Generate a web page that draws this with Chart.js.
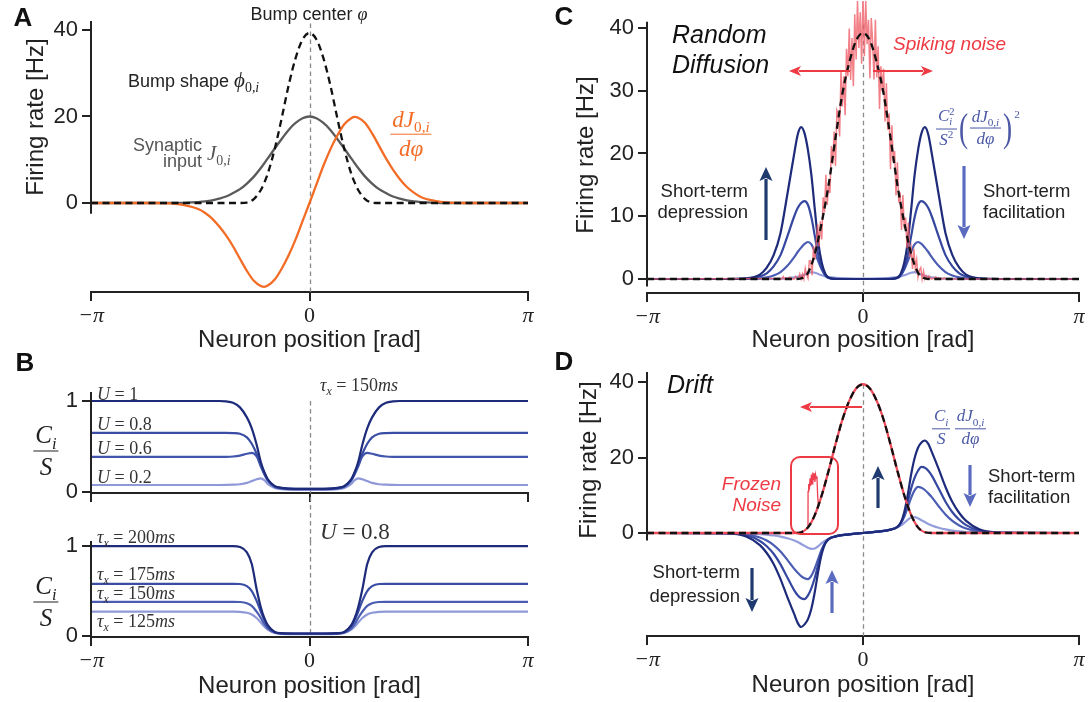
<!DOCTYPE html>
<html>
<head>
<meta charset="utf-8">
<script src="https://cdn.jsdelivr.net/npm/chart.js@4.4.1/dist/chart.umd.min.js"></script>
<style>
  body { margin: 0; background: #fff; }
  #fig { position: relative; width: 1088px; height: 702px; overflow: hidden;
         font-family: 'Liberation Sans', Arial, sans-serif; color: #222; }
  canvas { position: absolute; }
  svg { position: absolute; left: 0; top: 0; pointer-events: none; }
  .t { position: absolute; white-space: nowrap; line-height: 1.15; }
  .c { transform: translate(-50%, -50%); }
  .l { transform: translate(0, -50%); }
  .r { transform: translate(-100%, -50%); }
  .lt { font-weight: bold; font-size: 26px; color: #111; }
  .yl { transform: translate(-50%, -50%) rotate(-90deg); font-size: 24px; }
  .m { font-family: 'Liberation Serif', serif; font-style: italic; }
  .up { font-style: normal; }
  .it { font-style: italic; }
  sub, sup { font-size: 66%; line-height: 0; }
  .frac { display: inline-flex; flex-direction: column; align-items: center; vertical-align: middle; line-height: 1.1; }
  .frac .num { border-bottom: 1.2px solid currentColor; padding: 0 2px 2px; }
  .frac .den { padding-top: 1px; }
  .ss { display: inline-flex; flex-direction: column; font-size: 62%; line-height: 0.95; vertical-align: middle; }
  .par { font-family: 'Liberation Serif', serif; font-style: normal; font-size: 2.3em; font-weight: 100; vertical-align: middle; display: inline-block; transform: scaleX(0.7); }
</style>
</head>
<body>
<div id="fig">
  <canvas id="chartA"></canvas>
  <canvas id="chartB1"></canvas>
  <canvas id="chartB2"></canvas>
  <canvas id="chartC"></canvas>
  <canvas id="chartD"></canvas>
  <svg id="marks" width="1088" height="702"></svg>

  <div class="t c lt" style="left:23px;top:18px">A</div>
  <div class="t c lt" style="left:25px;top:363px">B</div>
  <div class="t c lt" style="left:564px;top:17px">C</div>
  <div class="t c lt" style="left:564px;top:362px">D</div>

  <div class="t yl" style="left:35px;top:117px">Firing rate [Hz]</div>
  <div class="t yl" style="left:585px;top:155px">Firing rate [Hz]</div>
  <div class="t yl" style="left:588px;top:460px">Firing rate [Hz]</div>

  <!-- panel A -->
  <div class="t c" style="left:309px;top:14px;font-size:18px">Bump center <span class="m">φ</span></div>
  <div class="t l" style="left:128px;top:80px;font-size:18px">Bump shape <span class="m" style="font-size:21px">ϕ<sub><span class="up">0,</span>i</sub></span></div>
  <div class="t r" style="left:202px;top:145px;font-size:18px;color:#555">Synaptic</div>
  <div class="t r" style="left:202px;top:161px;font-size:18px;color:#555">input</div>
  <div class="t l m" style="left:207px;top:153px;font-size:21px;color:#555">J<sub><span class="up">0,</span>i</sub></div>
  <div class="t c m" style="left:411px;top:134px;font-size:23px;color:#f36c25"><span class="frac"><span class="num">dJ<sub><span class="up">0,</span>i</sub></span><span class="den">dφ</span></span></div>

  <!-- panel B -->
  <div class="t c m" style="left:46px;top:450px;font-size:25px"><span class="frac"><span class="num">C<sub>i</sub></span><span class="den">S</span></span></div>
  <div class="t c m" style="left:46px;top:601px;font-size:25px"><span class="frac"><span class="num">C<sub>i</sub></span><span class="den">S</span></span></div>
  <div class="t l m" style="left:97px;top:394px;font-size:18px;color:#333">U <span class="up">= 1</span></div>
  <div class="t l m" style="left:97px;top:424px;font-size:18px;color:#333">U <span class="up">= 0.8</span></div>
  <div class="t l m" style="left:97px;top:448px;font-size:18px;color:#333">U <span class="up">= 0.6</span></div>
  <div class="t l m" style="left:97px;top:477px;font-size:18px;color:#333">U <span class="up">= 0.2</span></div>
  <div class="t l m" style="left:320px;top:385px;font-size:18px;color:#333">τ<sub>x</sub> <span class="up">= 150</span>ms</div>
  <div class="t l m" style="left:97px;top:537px;font-size:18px;color:#333">τ<sub>x</sub> <span class="up">= 200</span>ms</div>
  <div class="t l m" style="left:97px;top:574px;font-size:18px;color:#333">τ<sub>x</sub> <span class="up">= 175</span>ms</div>
  <div class="t l m" style="left:97px;top:593px;font-size:18px;color:#333">τ<sub>x</sub> <span class="up">= 150</span>ms</div>
  <div class="t l m" style="left:97px;top:621px;font-size:18px;color:#333">τ<sub>x</sub> <span class="up">= 125</span>ms</div>
  <div class="t l m" style="left:320px;top:532px;font-size:23px;color:#333">U <span class="up">= 0.8</span></div>

  <!-- panel C -->
  <div class="t l it" style="left:672px;top:34px;font-size:25px;color:#111">Random</div>
  <div class="t l it" style="left:672px;top:64px;font-size:25px;color:#111">Diffusion</div>
  <div class="t l it" style="left:893px;top:44px;font-size:19px;color:#ee3a43">Spiking noise</div>
  <div class="t r" style="left:748px;top:191px;font-size:18.5px">Short-term</div>
  <div class="t r" style="left:748px;top:212px;font-size:18.5px">depression</div>
  <div class="t l" style="left:983px;top:191px;font-size:18.5px">Short-term</div>
  <div class="t l" style="left:983px;top:212px;font-size:18.5px">facilitation</div>
  <div class="t l m" style="left:936px;top:128px;font-size:17px;color:#4a58a6">
    <span class="frac"><span class="num">C<span class="ss"><span class="up">2</span><span>i</span></span></span><span class="den">S<sup class="up">2</sup></span></span><span class="par">(</span><span class="frac"><span class="num">dJ<sub><span class="up">0,</span>i</sub></span><span class="den">dφ</span></span><span class="par">)</span><sup class="up" style="vertical-align:14px">2</sup>
  </div>

  <!-- panel D -->
  <div class="t l it" style="left:667px;top:384px;font-size:25px;color:#111">Drift</div>
  <div class="t r it" style="left:781px;top:484px;font-size:19px;color:#ee3a43">Frozen</div>
  <div class="t r it" style="left:781px;top:505px;font-size:19px;color:#ee3a43">Noise</div>
  <div class="t l" style="left:988px;top:476px;font-size:18.5px">Short-term</div>
  <div class="t l" style="left:988px;top:497px;font-size:18.5px">facilitation</div>
  <div class="t r" style="left:740px;top:572px;font-size:18.5px">Short-term</div>
  <div class="t r" style="left:740px;top:596px;font-size:18.5px">depression</div>
  <div class="t l m" style="left:932px;top:428px;font-size:17px;color:#4a58a6">
    <span class="frac"><span class="num">C<sub>i</sub></span><span class="den">S</span></span>
    <span class="frac"><span class="num">dJ<sub><span class="up">0,</span>i</sub></span><span class="den">dφ</span></span>
  </div>
</div>

<script>
// tick positions shared by all panels
const piTicks = [-Math.PI, 0, Math.PI];
const piLabels = ['−π', '0', 'π'];
const yTicksA = [0, 20, 40];
const yTicksB = [0, 1];
const yTicksC = [0, 10, 20, 30, 40];
const yTicksD = [0, 20, 40];

// panel A: bump, synaptic input and its derivative
const xA = [-Math.PI, -2.2, -2.0, -1.8, -1.6, -1.5, -1.4, -1.3, -1.2, -1.1, -1.0, -0.9, -0.8, -0.7, -0.65, -0.6, -0.5, -0.4, -0.3, -0.2, -0.1,
  0, 0.1, 0.2, 0.3, 0.4, 0.5, 0.6, 0.65, 0.7, 0.8, 0.9, 1.0, 1.1, 1.2, 1.3, 1.4, 1.5, 1.6, 1.8, 2.0, 2.2, Math.PI];
const bumpA = [0, 0, 0, 0, 0, 0, 0, 0, 0, 0, 0, 0.1, 0.9, 3.0, 4.7, 6.8, 12.5, 19.6, 27.2, 33.5, 37.8,
  39.3, 37.8, 33.5, 27.2, 19.6, 12.5, 6.8, 4.7, 3.0, 0.9, 0.1, 0, 0, 0, 0, 0, 0, 0, 0, 0, 0, 0];
const inputA = [0, 0, 0, 0.05, 0.2, 0.35, 0.6, 1.0, 1.5, 2.3, 3.2, 4.5, 6.1, 8.1, 9.2, 10.3, 12.6, 14.8, 16.9, 18.5, 19.6,
  20, 19.6, 18.5, 16.9, 14.8, 12.6, 10.3, 9.2, 8.1, 6.1, 4.5, 3.2, 2.3, 1.5, 1.0, 0.6, 0.35, 0.2, 0.05, 0, 0, 0];
const slopeA = [0, 0, -0.1, -0.5, -1.4, -2.3, -3.6, -5.4, -7.5, -10.0, -12.9, -15.7, -18.0, -19.2, -19.4, -19.1, -17.7, -15.2, -12.1, -8.4, -4.2,
  0, 4.3, 8.6, 12.4, 15.6, 18.2, 19.6, 19.9, 19.7, 18.5, 16.1, 13.2, 10.3, 7.7, 5.5, 3.7, 2.4, 1.4, 0.5, 0.1, 0, 0];

// panel B: C_i / S for several U (top) and tau_x (bottom)
const xB = [-Math.PI, -1.3, -1.2, -1.1, -1.0, -0.9, -0.83, -0.76, -0.7, -0.65, -0.6, -0.5, -0.4, -0.2,
  0, 0.2, 0.4, 0.5, 0.6, 0.65, 0.7, 0.76, 0.83, 0.9, 1.0, 1.1, 1.2, 1.3, Math.PI];
const uOne = [1, 1, 0.995, 0.98, 0.93, 0.82, 0.7, 0.52, 0.33, 0.22, 0.14, 0.065, 0.045, 0.035,
  0.035, 0.035, 0.045, 0.065, 0.14, 0.22, 0.33, 0.52, 0.7, 0.82, 0.93, 0.98, 0.995, 1, 1];
const uPoint8 = [0.65, 0.65, 0.65, 0.648, 0.64, 0.6, 0.53, 0.42, 0.3, 0.21, 0.135, 0.062, 0.043, 0.034,
  0.034, 0.034, 0.043, 0.062, 0.135, 0.21, 0.3, 0.42, 0.53, 0.6, 0.64, 0.648, 0.65, 0.65, 0.65];
const uPoint6 = [0.385, 0.385, 0.386, 0.39, 0.4, 0.42, 0.43, 0.39, 0.28, 0.195, 0.125, 0.058, 0.04, 0.032,
  0.032, 0.032, 0.04, 0.058, 0.125, 0.195, 0.28, 0.39, 0.43, 0.42, 0.4, 0.39, 0.386, 0.385, 0.385];
const uPoint2 = [0.077, 0.077, 0.078, 0.08, 0.085, 0.1, 0.12, 0.14, 0.15, 0.13, 0.09, 0.045, 0.03, 0.024,
  0.024, 0.024, 0.03, 0.045, 0.09, 0.13, 0.15, 0.14, 0.12, 0.1, 0.085, 0.08, 0.078, 0.077, 0.077];
const tau200 = [1, 1, 1, 1, 0.99, 0.93, 0.8, 0.52, 0.32, 0.2, 0.12, 0.045, 0.032, 0.028,
  0.028, 0.028, 0.032, 0.045, 0.12, 0.2, 0.32, 0.52, 0.8, 0.93, 0.99, 1, 1, 1, 1];
const tau175 = [0.58, 0.58, 0.58, 0.58, 0.578, 0.555, 0.5, 0.39, 0.27, 0.18, 0.11, 0.043, 0.03, 0.026,
  0.026, 0.026, 0.03, 0.043, 0.11, 0.18, 0.27, 0.39, 0.5, 0.555, 0.578, 0.58, 0.58, 0.58, 0.58];
const tau150 = [0.38, 0.38, 0.38, 0.38, 0.378, 0.365, 0.335, 0.27, 0.2, 0.135, 0.085, 0.038, 0.027, 0.024,
  0.024, 0.024, 0.027, 0.038, 0.085, 0.135, 0.2, 0.27, 0.335, 0.365, 0.378, 0.38, 0.38, 0.38, 0.38];
const tau125 = [0.27, 0.27, 0.27, 0.27, 0.268, 0.258, 0.24, 0.2, 0.15, 0.105, 0.07, 0.033, 0.024, 0.022,
  0.022, 0.022, 0.024, 0.033, 0.07, 0.105, 0.15, 0.2, 0.24, 0.258, 0.268, 0.27, 0.27, 0.27, 0.27];

// panels C and D: bump shapes
const xBump = [-Math.PI, -1.0, -0.9, -0.8, -0.7, -0.6, -0.5, -0.4, -0.3, -0.2, -0.1,
  0, 0.1, 0.2, 0.3, 0.4, 0.5, 0.6, 0.7, 0.8, 0.9, 1.0, Math.PI];
const bumpC = [0, 0, 0.1, 1.0, 4.0, 9.0, 15.0, 22.5, 29.5, 34.5, 38.0, 39.2, 38.0, 34.5, 29.5, 22.5, 15.0, 9.0, 4.0, 1.0, 0.1, 0, 0];
const bumpD = [0, 0, 0.2, 1.5, 4.8, 10.0, 16.5, 23.5, 30.0, 35.0, 38.3, 39.4, 38.3, 35.0, 30.0, 23.5, 16.5, 10.0, 4.8, 1.5, 0.2, 0, 0];

// panel C: one noisy bump sample
const xNoise = [-Math.PI,
  -1.2, -1.18, -1.16, -1.14, -1.12, -1.1, -1.08, -1.06, -1.04, -1.02,
  -1.0, -0.98, -0.96, -0.94, -0.92, -0.9, -0.88, -0.86, -0.84, -0.82,
  -0.8, -0.78, -0.76, -0.74, -0.72, -0.7, -0.68, -0.66, -0.64, -0.62,
  -0.6, -0.58, -0.56, -0.54, -0.52, -0.5, -0.48, -0.46, -0.44, -0.42,
  -0.4, -0.38, -0.36, -0.34, -0.32, -0.3, -0.28, -0.26, -0.24, -0.22,
  -0.2, -0.18, -0.16, -0.14, -0.12, -0.1, -0.08, -0.06, -0.04, -0.02,
  0,
  0.02, 0.04, 0.06, 0.08, 0.1, 0.12, 0.14, 0.16, 0.18, 0.2,
  0.22, 0.24, 0.26, 0.28, 0.3, 0.32, 0.34, 0.36, 0.38, 0.4,
  0.42, 0.44, 0.46, 0.48, 0.5, 0.52, 0.54, 0.56, 0.58, 0.6,
  0.62, 0.64, 0.66, 0.68, 0.7, 0.72, 0.74, 0.76, 0.78, 0.8,
  0.82, 0.84, 0.86, 0.88, 0.9, 0.92, 0.94, 0.96, 0.98, 1.0,
  1.02, 1.04, 1.06, 1.08, 1.1, 1.12, 1.14, 1.16, 1.18, 1.2,
  Math.PI];
const spikingNoise = [0,
  0.1, 0, 0.4, 0, 0.2, 0, 0.2, 0.3, 0, 0.05,
  0, 0.4, 0.1, 0, 0.8, 0, 0.8, 0, 1.7, 0.7,
  0.1, 2.9, 2.9, 0.6, 5.2, 3.1, 5.6, 8.7, 5.2, 9.2,
  6.3, 13.0, 10.6, 16.6, 11.8, 15.4, 13.7, 21.2, 18.3, 23.5,
  18.0, 26.9, 26.3, 22.7, 33.1, 27.5, 32.3, 26.1, 36.7, 32.3,
  39.9, 31.7, 38.4, 30.7, 42.2, 35.0, 44.3, 36.8, 42.5, 34.3,
  45.2,
  35.5, 44.3, 37.4, 41.3, 32.0, 41.6, 37.9, 31.8, 41.3, 32.1,
  37.1, 27.1, 33.9, 29.9, 33.5, 25.1, 31.2, 23.8, 26.4, 17.5,
  24.5, 18.7, 20.4, 13.3, 18.6, 12.2, 13.8, 7.8, 13.4, 8.1,
  9.8, 4.9, 9.0, 3.5, 4.9, 1.6, 4.8, 1.8, 3.1, 0.3,
  1.4, 1.8, 0, 1.2, 0, 0.5, 0, 0.5, 0.1, 0,
  0.2, 0, 0.3, 0, 0.2, 0, 0.1, 0, 0.2, 0,
  0];

// panel D: frozen noise patch on the bump flank
const xFrozen = [-0.8, -0.799, -0.79, -0.78, -0.77, -0.76, -0.75, -0.74, -0.73, -0.72, -0.71, -0.7, -0.69, -0.68, -0.67, -0.66, -0.65];
const frozenNoise = [1.5, 11, 13, 11.5, 14.5, 12.5, 15.5, 13, 16, 14, 15.8, 13.5, 15.5, 14.5, 15, 10, 7.5];

// panels C and D: blue curves, darkest (depression) to lightest (facilitation)
const xBlue = [-Math.PI, -2.0, -1.7, -1.5, -1.4, -1.3, -1.2, -1.1, -1.0, -0.95, -0.9, -0.85, -0.8, -0.75, -0.7, -0.65, -0.6, -0.55, -0.5, -0.4, -0.2,
  0, 0.2, 0.4, 0.5, 0.55, 0.6, 0.65, 0.7, 0.75, 0.8, 0.85, 0.9, 0.95, 1.0, 1.1, 1.2, 1.3, 1.4, 1.5, 1.7, 2.0, Math.PI];
const diffusion1 = [0, 0, 0.1, 0.7, 1.8, 3.8, 7.3, 13.5, 20, 23, 24.2, 23.2, 20.5, 16.5, 11, 5.8, 2.6, 0.9, 0.2, 0, 0,
  0, 0, 0, 0.2, 0.9, 2.6, 5.8, 11, 16.5, 20.5, 23.2, 24.2, 23, 20, 13.5, 7.3, 3.8, 1.8, 0.7, 0.1, 0, 0];
const diffusion2 = [0, 0, 0.05, 0.4, 0.9, 2.0, 3.8, 6.8, 10, 11.3, 12.1, 12.4, 11.8, 9.8, 6.8, 3.8, 1.7, 0.6, 0.15, 0, 0,
  0, 0, 0, 0.15, 0.6, 1.7, 3.8, 6.8, 9.8, 11.8, 12.4, 12.1, 11.3, 10, 6.8, 3.8, 2.0, 0.9, 0.4, 0.05, 0, 0];
const diffusion3 = [0, 0, 0, 0.1, 0.25, 0.55, 1.1, 2.1, 3.5, 4.3, 5.0, 5.6, 5.9, 5.5, 4.3, 2.8, 1.5, 0.7, 0.25, 0.05, 0,
  0, 0, 0.05, 0.25, 0.7, 1.5, 2.8, 4.3, 5.5, 5.9, 5.6, 5.0, 4.3, 3.5, 2.1, 1.1, 0.55, 0.25, 0.1, 0, 0, 0];
const diffusion4 = [0, 0, 0, 0, 0, 0.02, 0.05, 0.1, 0.25, 0.35, 0.5, 0.7, 0.9, 1.1, 1.0, 0.8, 0.6, 0.45, 0.3, 0.2, 0.1,
  0.05, 0.1, 0.2, 0.3, 0.45, 0.6, 0.8, 1.0, 1.1, 0.9, 0.7, 0.5, 0.35, 0.25, 0.1, 0.05, 0.02, 0, 0, 0, 0, 0];
const drift1 = [0, -0.1, -0.9, -3.2, -5.3, -8.2, -12.2, -17, -21.5, -23.8, -24.9, -24.2, -22.8, -20, -15.5, -10, -5.5, -2.8, -1.6, -0.9, -0.35,
  0, 0.35, 0.9, 1.6, 2.8, 5.5, 10, 15.5, 19.8, 22.6, 24, 24.5, 23.6, 21.5, 17, 12.2, 8.2, 5.3, 3.2, 0.9, 0.1, 0];
const drift2 = [0, -0.05, -0.6, -2.1, -3.5, -5.5, -8.3, -11.8, -15.2, -16.5, -17.3, -17.5, -16.5, -14.6, -11.8, -8.2, -4.8, -2.7, -1.6, -0.9, -0.35,
  0, 0.35, 0.9, 1.6, 2.7, 4.8, 8.2, 11.8, 14.6, 16.5, 17.5, 17.3, 16.5, 15.2, 11.8, 8.3, 5.5, 3.5, 2.1, 0.6, 0.05, 0];
const drift3 = [0, -0.03, -0.35, -1.2, -2.0, -3.2, -4.9, -7.1, -9.5, -10.5, -11.4, -12.0, -12.2, -11.3, -9.3, -6.8, -4.3, -2.6, -1.6, -0.9, -0.35,
  0, 0.35, 0.9, 1.6, 2.6, 4.3, 6.8, 9.3, 11.3, 12.2, 12.0, 11.4, 10.5, 9.5, 7.1, 4.9, 3.2, 2.0, 1.2, 0.35, 0.03, 0];
const drift4 = [0, -0.02, -0.1, -0.27, -0.42, -0.65, -0.95, -1.4, -2.0, -2.4, -2.9, -3.4, -3.9, -4.2, -4.1, -3.5, -2.7, -2.0, -1.5, -0.9, -0.35,
  0, 0.35, 0.9, 1.5, 2.0, 2.7, 3.5, 4.1, 4.2, 3.9, 3.4, 2.9, 2.4, 2.0, 1.4, 0.95, 0.65, 0.42, 0.27, 0.1, 0.02, 0];

const blues = ['#1d2b7a', '#35479f', '#4b5db3', '#949ddb'];
const red = '#ee3a43';

function pts(xs, ys) {
  return xs.map((x, i) => ({ x: x, y: ys[i] }));
}

function line(xs, ys, color, width, extra) {
  return Object.assign({
    data: pts(xs, ys),
    borderColor: color,
    borderWidth: width,
    pointRadius: 0,
    fill: false,
    cubicInterpolationMode: 'monotone'
  }, extra || {});
}

function dashed(xs, ys) {
  return line(xs, ys, '#111', 2.3, { borderDash: [7, 4.5] });
}

// dashed bump-centre line and the shortened left spine
const decor = {
  id: 'decor',
  beforeDatasetsDraw(chart, args, o) {
    const { ctx, chartArea, scales: { x, y } } = chart;
    const px = Math.round(x.getPixelForValue(0)) + 0.5;
    ctx.save();
    ctx.strokeStyle = '#8a8a8a';
    ctx.lineWidth = 1.3;
    ctx.setLineDash([4.5, 3.5]);
    ctx.beginPath();
    ctx.moveTo(px, y.getPixelForValue(o.center));
    ctx.lineTo(px, o.toEdge ? chart.height : chartArea.bottom);
    ctx.stroke();
    ctx.restore();
  },
  afterDraw(chart, args, o) {
    const { ctx, chartArea, scales: { y } } = chart;
    ctx.save();
    ctx.strokeStyle = '#222';
    ctx.lineWidth = 2;
    ctx.beginPath();
    ctx.moveTo(chartArea.left, y.getPixelForValue(o.spineTop));
    ctx.lineTo(chartArea.left, y.getPixelForValue(o.spineBottom));
    ctx.stroke();
    ctx.restore();
  }
};

function makePanel(id, box, area, opts) {
  const cv = document.getElementById(id);
  cv.width = box.w;
  cv.height = box.h;
  cv.style.left = box.x + 'px';
  cv.style.top = box.y + 'px';
  const yW = area.l - box.x;
  const xH = box.y + box.h - area.b;

  return new Chart(cv, {
    type: 'line',
    data: { datasets: opts.datasets },
    options: {
      responsive: false,
      animation: false,
      devicePixelRatio: 1,
      layout: { padding: { left: 0, top: area.t - box.y, right: box.x + box.w - area.r, bottom: 0 } },
      plugins: {
        legend: { display: false },
        tooltip: { enabled: false },
        decor: opts.decor
      },
      scales: {
        x: {
          type: 'linear',
          min: -Math.PI,
          max: Math.PI,
          afterBuildTicks: s => { s.ticks = piTicks.map(v => ({ value: v })); },
          afterFit: s => { s.height = xH; s.paddingLeft = 0; s.paddingRight = 0; },
          ticks: {
            autoSkip: false,
            maxRotation: 0,
            minRotation: 0,
            padding: 2,
            color: '#222',
            callback: (v, i) => (opts.xLabels ? piLabels[i] : ''),
            font: c => ({ family: 'Liberation Serif', size: 22, style: c.index === 1 ? 'normal' : 'italic' })
          },
          grid: { drawOnChartArea: false, color: '#222', lineWidth: 2, tickLength: 9 },
          border: { display: true, color: '#222', width: 2 },
          title: {
            display: opts.xLabels,
            text: 'Neuron position [rad]',
            color: '#222',
            font: { family: 'Liberation Sans', size: 24 },
            padding: { top: 0, bottom: opts.titlePad || 0 }
          }
        },
        y: {
          type: 'linear',
          min: opts.ymin,
          max: opts.ymax,
          afterBuildTicks: s => { s.ticks = opts.yTicks.map(v => ({ value: v })); },
          afterFit: s => { s.width = yW; s.paddingTop = 0; s.paddingBottom = 0; },
          ticks: { padding: 4, color: '#222', font: { family: 'Liberation Sans', size: 22 } },
          grid: { drawOnChartArea: false, color: '#222', lineWidth: 2, tickLength: 9 },
          border: { display: false }
        }
      }
    },
    plugins: [decor]
  });
}

makePanel('chartA', { x: 0, y: 0, w: 545, h: 355 }, { l: 91, t: 21, r: 528, b: 292 }, {
  ymin: -20.58, ymax: 42.08, yTicks: yTicksA, xLabels: true,
  decor: { center: 41.5, spineTop: 42.08, spineBottom: -2.5 },
  datasets: [
    dashed(xA, bumpA),
    line(xA, slopeA, '#f36c25', 2.3),
    line(xA, inputA, '#5a5a5a', 2.3)
  ]
});

makePanel('chartB1', { x: 0, y: 380, w: 545, h: 165 }, { l: 91, t: 392, r: 528, b: 493 }, {
  ymin: -0.011, ymax: 1.099, yTicks: yTicksB, xLabels: false,
  decor: { center: 1.0, toEdge: true, spineTop: 1.099, spineBottom: -0.011 },
  datasets: [
    line(xB, uOne, blues[0], 2.2),
    line(xB, uPoint8, '#3a4da5', 2.2),
    line(xB, uPoint6, '#4255ad', 2.2),
    line(xB, uPoint2, '#8f99d8', 2.2)
  ]
});

makePanel('chartB2', { x: 0, y: 525, w: 545, h: 177 }, { l: 91, t: 541, r: 528, b: 637 }, {
  ymin: -0.011, ymax: 1.056, yTicks: yTicksB, xLabels: true, titlePad: 1.6,
  decor: { center: 1.056, spineTop: 1.056, spineBottom: -0.011 },
  datasets: [
    line(xB, tau200, blues[0], 2.2),
    line(xB, tau175, '#3a4da5', 2.2),
    line(xB, tau150, '#4a5cb2', 2.2),
    line(xB, tau125, '#8f99d8', 2.2)
  ]
});

makePanel('chartC', { x: 545, y: 0, w: 543, h: 355 }, { l: 647, t: 1, r: 1079, b: 293 }, {
  ymin: -2.23, ymax: 44.3, yTicks: yTicksC, xLabels: true,
  decor: { center: 40.5, spineTop: 41, spineBottom: -1.2 },
  datasets: [
    dashed(xBump, bumpC),
    line(xNoise, spikingNoise, 'rgba(238, 92, 102, 0.78)', 1.5, { cubicInterpolationMode: 'default', tension: 0 }),
    line(xBlue, diffusion1, blues[0], 2.2),
    line(xBlue, diffusion2, blues[1], 2.2),
    line(xBlue, diffusion3, blues[2], 2.2),
    line(xBlue, diffusion4, blues[3], 2.2)
  ]
});

makePanel('chartD', { x: 545, y: 355, w: 543, h: 347 }, { l: 647, t: 372, r: 1079, b: 636 }, {
  ymin: -27.28, ymax: 42.65, yTicks: yTicksD, xLabels: true, titlePad: 2.6,
  decor: { center: 39.4, spineTop: 42.65, spineBottom: -2 },
  datasets: [
    dashed(xBump, bumpD),
    line(xBump, bumpD, '#ef4a5a', 2.3),
    line(xFrozen, frozenNoise, '#ee4050', 1.3, { cubicInterpolationMode: 'default', tension: 0 }),
    line(xBlue, drift1, blues[0], 2.2),
    line(xBlue, drift2, blues[1], 2.2),
    line(xBlue, drift3, blues[2], 2.2),
    line(xBlue, drift4, blues[3], 2.2)
  ]
});

// annotation arrows and the frozen-noise box
const svgNS = 'http://www.w3.org/2000/svg';
const marks = document.getElementById('marks');
const dark = '#1f3a6e';
const light = '#5b6cc0';
const arrowList = [
  [850, 71, 789, 71, red, 2, 12, 5],
  [873, 71, 933, 71, red, 2, 12, 5],
  [766, 240, 766, 167, dark, 3.2, 14, 6.5],
  [964, 166, 964, 239, light, 3.2, 14, 6.5],
  [862, 407, 800, 407, red, 2, 12, 5],
  [878, 508, 878, 466, dark, 3.2, 14, 6.5],
  [970, 465, 970, 507, light, 3.2, 14, 6.5],
  [752, 568, 752, 612, dark, 3.2, 14, 6.5],
  [832, 613, 832, 570, light, 3.2, 14, 6.5]
];

function addArrow(a) {
  const [x1, y1, x2, y2, color, w, hl, hw] = a;
  const len = Math.hypot(x2 - x1, y2 - y1);
  const ux = (x2 - x1) / len, uy = (y2 - y1) / len;
  const bx = x2 - ux * hl, by = y2 - uy * hl;
  const shaft = document.createElementNS(svgNS, 'line');
  shaft.setAttribute('x1', x1); shaft.setAttribute('y1', y1);
  shaft.setAttribute('x2', bx + ux * 2); shaft.setAttribute('y2', by + uy * 2);
  shaft.setAttribute('stroke', color); shaft.setAttribute('stroke-width', w);
  marks.appendChild(shaft);
  const head = document.createElementNS(svgNS, 'polygon');
  head.setAttribute('points', `${x2},${y2} ${bx - uy * hw},${by + ux * hw} ${bx + ux * 3},${by + uy * 3} ${bx + uy * hw},${by - ux * hw}`);
  head.setAttribute('fill', color);
  marks.appendChild(head);
}
arrowList.forEach(addArrow);

const box = document.createElementNS(svgNS, 'rect');
box.setAttribute('x', 791); box.setAttribute('y', 457);
box.setAttribute('width', 47); box.setAttribute('height', 77);
box.setAttribute('rx', 9);
box.setAttribute('fill', 'none'); box.setAttribute('stroke', red); box.setAttribute('stroke-width', 2);
marks.appendChild(box);
</script>
</body>
</html>
